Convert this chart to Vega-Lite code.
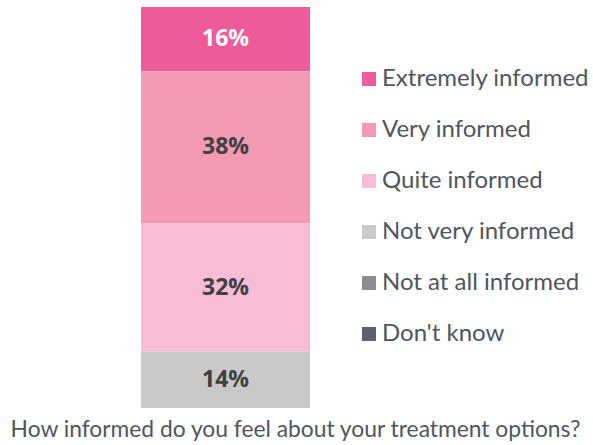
{
  "$schema": "https://vega.github.io/schema/vega-lite/v6.json",
  "autosize": "none",
  "width": 169,
  "height": 401,
  "padding": {"left": 141, "top": 7, "right": 283, "bottom": 37},
  "background": "white",
  "config": {"view": {"stroke": null}, "font": "Lato"},
  "data": {"values": [
    {"question": "q", "cat": "Extremely informed", "k": 1, "pct": 0.16},
    {"question": "q", "cat": "Very informed", "k": 2, "pct": 0.38},
    {"question": "q", "cat": "Quite informed", "k": 3, "pct": 0.32},
    {"question": "q", "cat": "Not very informed", "k": 4, "pct": 0.14},
    {"question": "q", "cat": "Not at all informed", "k": 5, "pct": 0},
    {"question": "q", "cat": "Don't know", "k": 6, "pct": 0}
  ]},
  "transform": [
    {"stack": "pct", "groupby": [], "sort": [{"field": "k"}], "as": ["y0", "y1"]},
    {"calculate": "(datum.y0 + datum.y1) / 2", "as": "ym"}
  ],
  "encoding": {
    "x": {
      "field": "question", "type": "nominal",
      "scale": {"paddingInner": 0, "paddingOuter": 0},
      "axis": {
        "labels": false, "ticks": false, "domain": false, "grid": false,
        "title": "How informed do you feel about your treatment options?",
        "titleFont": "Lato", "titleFontSize": 22.8, "titleFontWeight": "normal",
        "titleColor": "#505661", "titleX": 154, "titleY": 21,
        "titleBaseline": "middle", "titleAlign": "center"
      }
    }
  },
  "layer": [
    {
      "mark": {"type": "bar"},
      "encoding": {
        "y": {"field": "y0", "type": "quantitative", "scale": {"domain": [0, 1], "reverse": true, "nice": false}, "axis": null},
        "y2": {"field": "y1"},
        "color": {
          "field": "cat", "type": "nominal",
          "scale": {
            "domain": ["Extremely informed", "Very informed", "Quite informed", "Not very informed", "Not at all informed", "Don't know"],
            "range": ["#EF5B9A", "#F49AB2", "#F7BCD6", "#C9C9C9", "#8C8C91", "#5E6268"]
          },
          "legend": {
            "title": null, "orient": "none", "legendX": 216, "legendY": 60,
            "symbolType": "square", "symbolSize": 196, "symbolStrokeWidth": 0,
            "labelFont": "Lato", "labelFontSize": 24, "labelColor": "#505661",
            "labelOffset": 1, "rowPadding": 27, "labelLimit": 300
          }
        }
      }
    },
    {
      "transform": [{"filter": "datum.pct > 0"}],
      "mark": {"type": "text", "font": "Open Sans", "fontSize": 23, "fontWeight": "bold", "baseline": "middle"},
      "encoding": {
        "y": {"field": "ym", "type": "quantitative"},
        "text": {"field": "pct", "type": "quantitative", "format": ".0%"},
        "color": {"condition": {"test": "datum.cat === 'Extremely informed'", "value": "#FFFFFF"}, "value": "#404040"}
      }
    }
  ]
}
